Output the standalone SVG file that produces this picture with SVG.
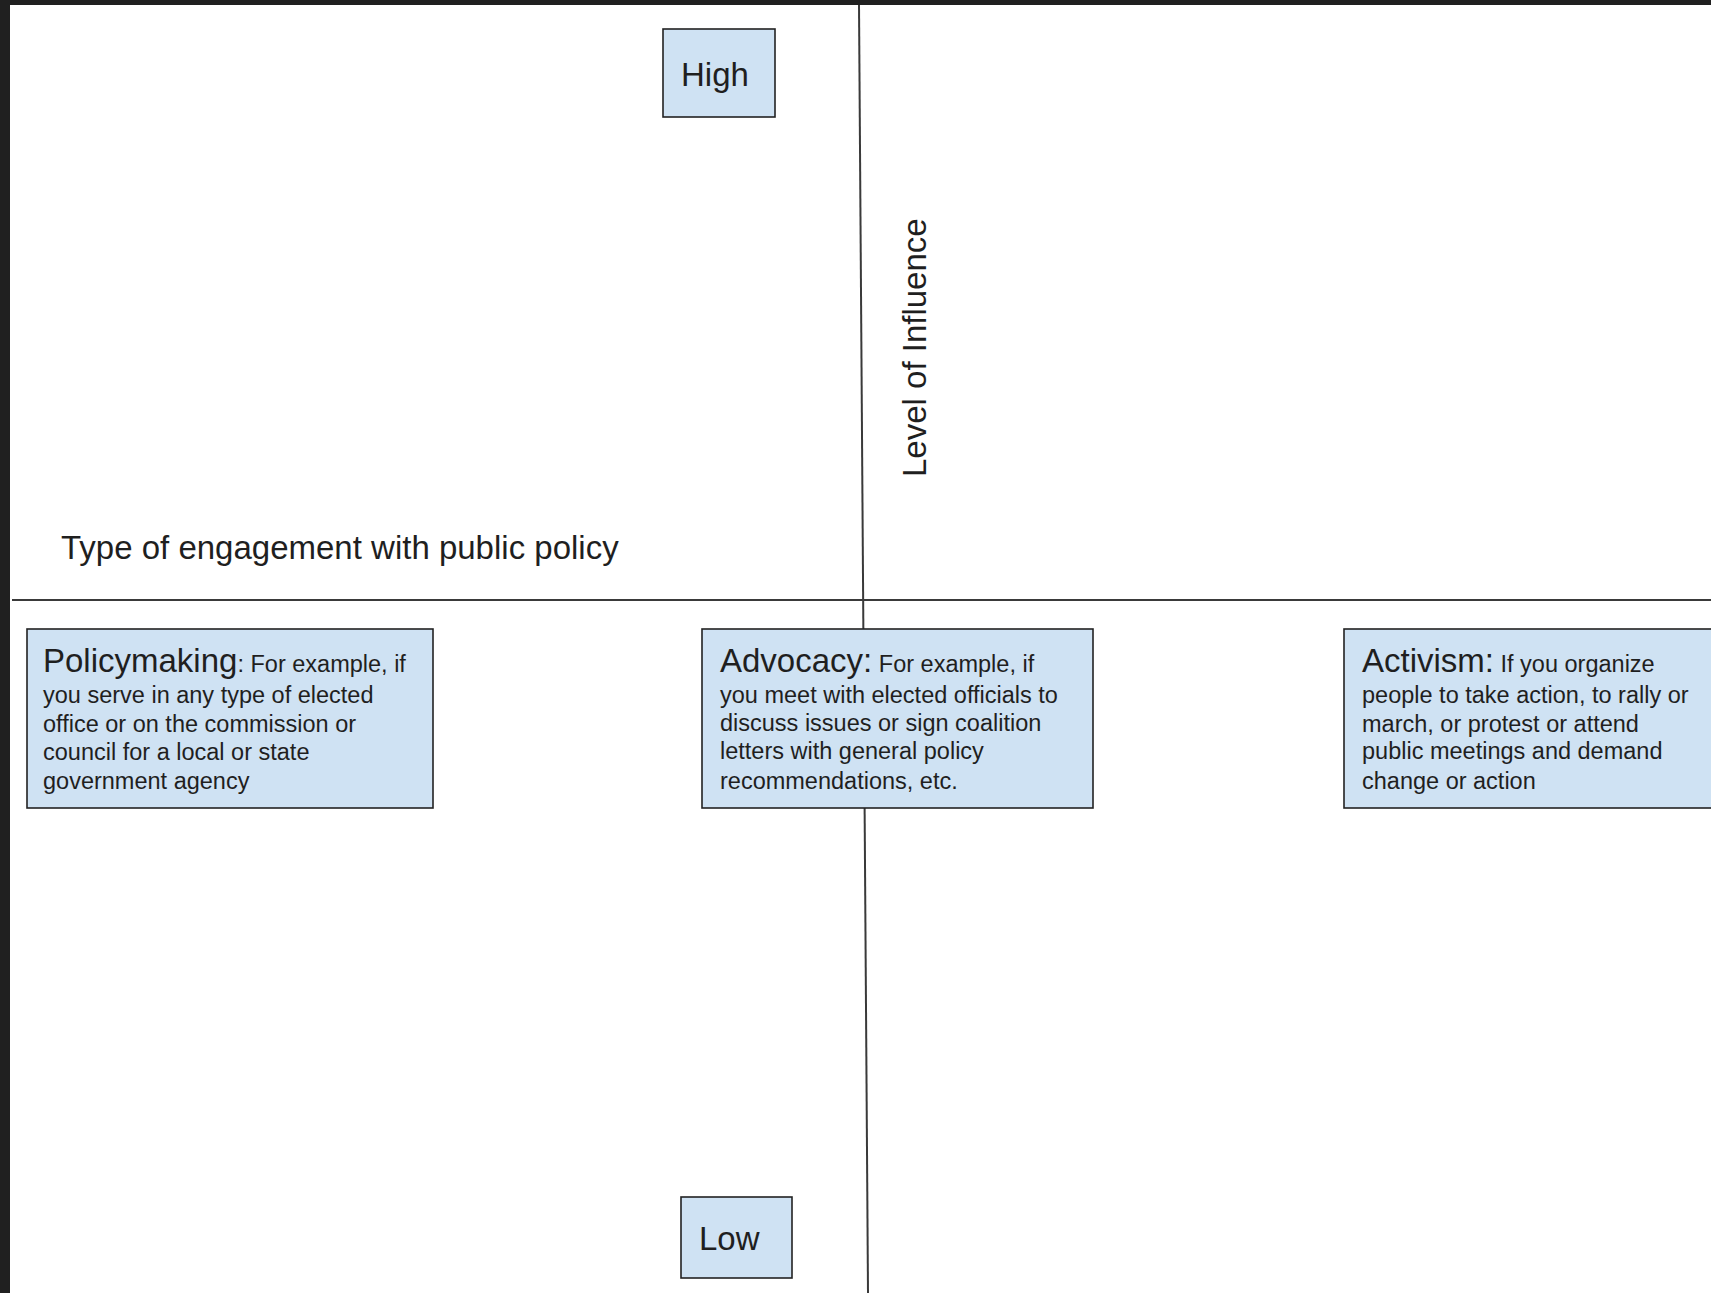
<svg xmlns="http://www.w3.org/2000/svg" width="1711" height="1293" viewBox="0 0 1711 1293">
<style>
.box{fill:#cfe2f3;stroke:#222;stroke-width:1.6}
.t{font-family:"Liberation Sans",Arial,sans-serif;fill:#1f1f1f}
.big{font-size:33px}
.small{font-size:23.5px}
.axis{stroke:#3a3a3a;stroke-width:2;fill:none}
</style>
<rect x="0" y="0" width="1711" height="1293" fill="#ffffff"/>
<rect x="0" y="0" width="1711" height="5" fill="#202020"/>
<rect x="0" y="0" width="10" height="1293" fill="#202020"/>
<g id="connectors">
<line class="axis" x1="859" y1="5" x2="868" y2="1293"/>
<line class="axis" x1="12" y1="600" x2="1711" y2="600"/>
</g>
<g id="axis-x-label"><text class="t big" x="61" y="559">Type of engagement with public policy</text></g>
<g id="axis-y-label"><text class="t big" transform="translate(926,477) rotate(-90)">Level of Influence</text></g>
<g id="high"><rect class="box" x="663" y="29" width="112" height="88"/><text class="t big" x="681" y="86">High</text></g>
<g id="low"><rect class="box" x="681" y="1197" width="111" height="81"/><text class="t big" x="699" y="1250">Low</text></g>
<g id="policymaking">
<rect class="box" x="27" y="629" width="406" height="179"/>
<text class="t small" x="43" y="672"><tspan class="big">Policymaking</tspan>: For example, if</text>
<text class="t small" x="43" y="703">you serve in any type of elected</text>
<text class="t small" x="43" y="732">office or on the commission or</text>
<text class="t small" x="43" y="760">council for a local or state</text>
<text class="t small" x="43" y="789">government agency</text>
</g>
<g id="advocacy">
<rect class="box" x="702" y="629" width="391" height="179"/>
<text class="t small" x="720" y="672"><tspan class="big">Advocacy:</tspan> For example, if</text>
<text class="t small" x="720" y="703">you meet with elected officials to</text>
<text class="t small" x="720" y="731">discuss issues or sign coalition</text>
<text class="t small" x="720" y="759">letters with general policy</text>
<text class="t small" x="720" y="789">recommendations, etc.</text>
</g>
<g id="activism">
<rect class="box" x="1344" y="629" width="380" height="179"/>
<text class="t small" x="1362" y="672"><tspan class="big">Activism:</tspan> If you organize</text>
<text class="t small" x="1362" y="703">people to take action, to rally or</text>
<text class="t small" x="1362" y="732">march, or protest or attend</text>
<text class="t small" x="1362" y="759">public meetings and demand</text>
<text class="t small" x="1362" y="789">change or action</text>
</g>
</svg>
